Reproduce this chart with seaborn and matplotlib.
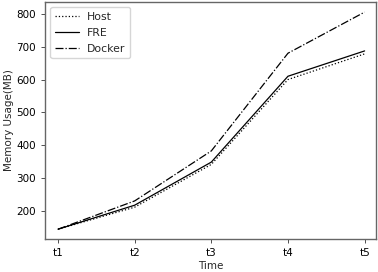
import pandas as pd
import numpy as np
import matplotlib
matplotlib.use('Agg')
import matplotlib.pyplot as plt
import seaborn as sns

# Chart values
times = ['t1', 't2', 't3', 't4', 't5']
host = [145, 212, 342, 600, 678]
fre = [145, 218, 349, 610, 687]
docker = [145, 231, 383, 680, 805]

df = pd.DataFrame({'Time': times * 3,
                   'Memory': host + fre + docker,
                   'Env': ['Host'] * 5 + ['FRE'] * 5 + ['Docker'] * 5})

sns.set_style('ticks')
plt.rcParams['font.family'] = ['DejaVu Sans']
plt.rcParams['font.size'] = 7.5

fig = plt.figure(figsize=(3.78, 2.72), dpi=100)
ax = fig.add_axes([0.119, 0.121, 0.876, 0.872])

styles = {'Host': ':', 'FRE': '-', 'Docker': '-.'}
for name in ['Host', 'FRE', 'Docker']:
    sub = df[df['Env'] == name]
    sns.lineplot(data=sub, x='Time', y='Memory', ax=ax, color='black',
                 linestyle=styles[name], linewidth=0.9, label=name)

ax.set_ylim(115, 836)
ax.set_xlim(-0.17, 4.15)
ax.set_yticks([200, 300, 400, 500, 600, 700, 800])
ax.set_xlabel('Time', fontsize=7.5, labelpad=2)
ax.set_ylabel('Memory Usage(MB)', fontsize=7.5, labelpad=2)
ax.tick_params(labelsize=7.5, length=3, width=0.6, colors='#333333', labelcolor='black')
for s in ax.spines.values():
    s.set_color('#666666')
    s.set_linewidth(1.0)
ax.legend(loc='upper left', fontsize=7.8, handlelength=2.2, frameon=True,
          borderpad=0.4, labelspacing=0.55)

fig.savefig('out.png', dpi=100)
